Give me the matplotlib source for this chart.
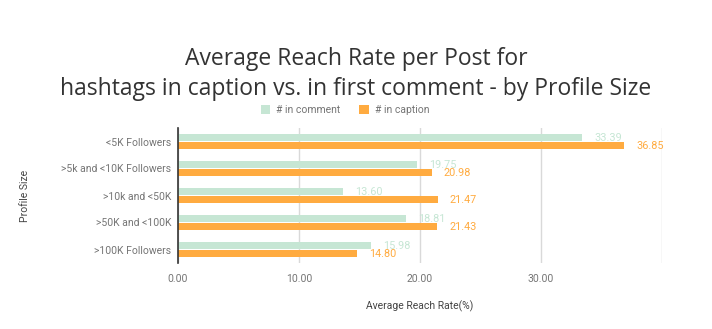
import numpy as np
import matplotlib.pyplot as plt

# ===== データ =====
categories = ["<5K Followers", ">5k and <10K Followers", ">10k and <50K",
              ">50K and <100K", ">100K Followers"]
in_comment = [33.39, 19.75, 13.60, 18.81, 15.98]
in_caption = [36.85, 20.98, 21.47, 21.43, 14.80]

C_COMMENT = "#c6e6d4"
C_CAPTION = "#ffab40"
GRAY = "#757575"

plt.rcParams["font.family"] = ["Roboto", "DejaVu Sans"]

fig = plt.figure(figsize=(7.12, 3.29), dpi=100)
ax = fig.add_axes([178 / 712, 1 - 263 / 329, (662 - 178) / 712, (263 - 128) / 329])

y = np.arange(len(categories))
h = 0.265
off = 0.14
ax.barh(y - off, in_comment, height=h, color=C_COMMENT, label="# in comment", zorder=3)
ax.barh(y + off, in_caption, height=h, color=C_CAPTION, label="# in caption", zorder=3)

# 値ラベル
for yi, v in zip(y, in_comment):
    ax.text(v + 1.0, yi - off, f"{v:.2f}", color=C_COMMENT, fontsize=7.8,
            va="center", ha="left")
for yi, v in zip(y, in_caption):
    ax.text(v + 1.0, yi + off + 0.04, f"{v:.2f}", color=C_CAPTION, fontsize=7.8,
            va="center", ha="left")

ax.set_xlim(0, 40)
ax.set_ylim(len(categories) - 0.5, -0.5)
ax.set_xticks([0, 10, 20, 30, 40])
ax.set_xticklabels(["0.00", "10.00", "20.00", "30.00", ""])
ax.set_yticks(y)
ax.set_yticklabels(categories)
ax.tick_params(axis="both", length=0, labelsize=7.5, colors=GRAY, pad=5)
ax.tick_params(axis="x", pad=8)

ax.grid(axis="x", color="#d9d9d9", linewidth=1, zorder=0)
for s in ["top", "right", "bottom"]:
    ax.spines[s].set_visible(False)
ax.spines["left"].set_color("#333333")
ax.spines["left"].set_linewidth(1.2)
ax.spines["left"].set_zorder(4)

ax.set_xlabel("Average Reach Rate(%)", fontsize=7.5, color="#444444", labelpad=12)
ax.set_ylabel("Profile Size", fontsize=7.5, color="#444444")
ax.yaxis.set_label_coords(-148 / 484, 0.5)

fig.legend(loc="center", bbox_to_anchor=(345 / 712, 1 - 110 / 329), ncol=2,
           frameon=False, fontsize=7.5, labelcolor=GRAY, handlelength=0.9,
           handleheight=0.9, columnspacing=1.8, handletextpad=0.6)

fig.text(0.5, 1 - 59 / 329, "Average Reach Rate per Post for", ha="center",
         va="center", fontsize=16.5, color="#333333",
         family=["Open Sans", "DejaVu Sans"])
fig.text(0.5, 1 - 89 / 329,
         "hashtags in caption vs. in first comment - by Profile Size",
         ha="center", va="center", fontsize=16.5, color="#333333",
         family=["Open Sans", "DejaVu Sans"])

fig.savefig("out.png", dpi=100)
